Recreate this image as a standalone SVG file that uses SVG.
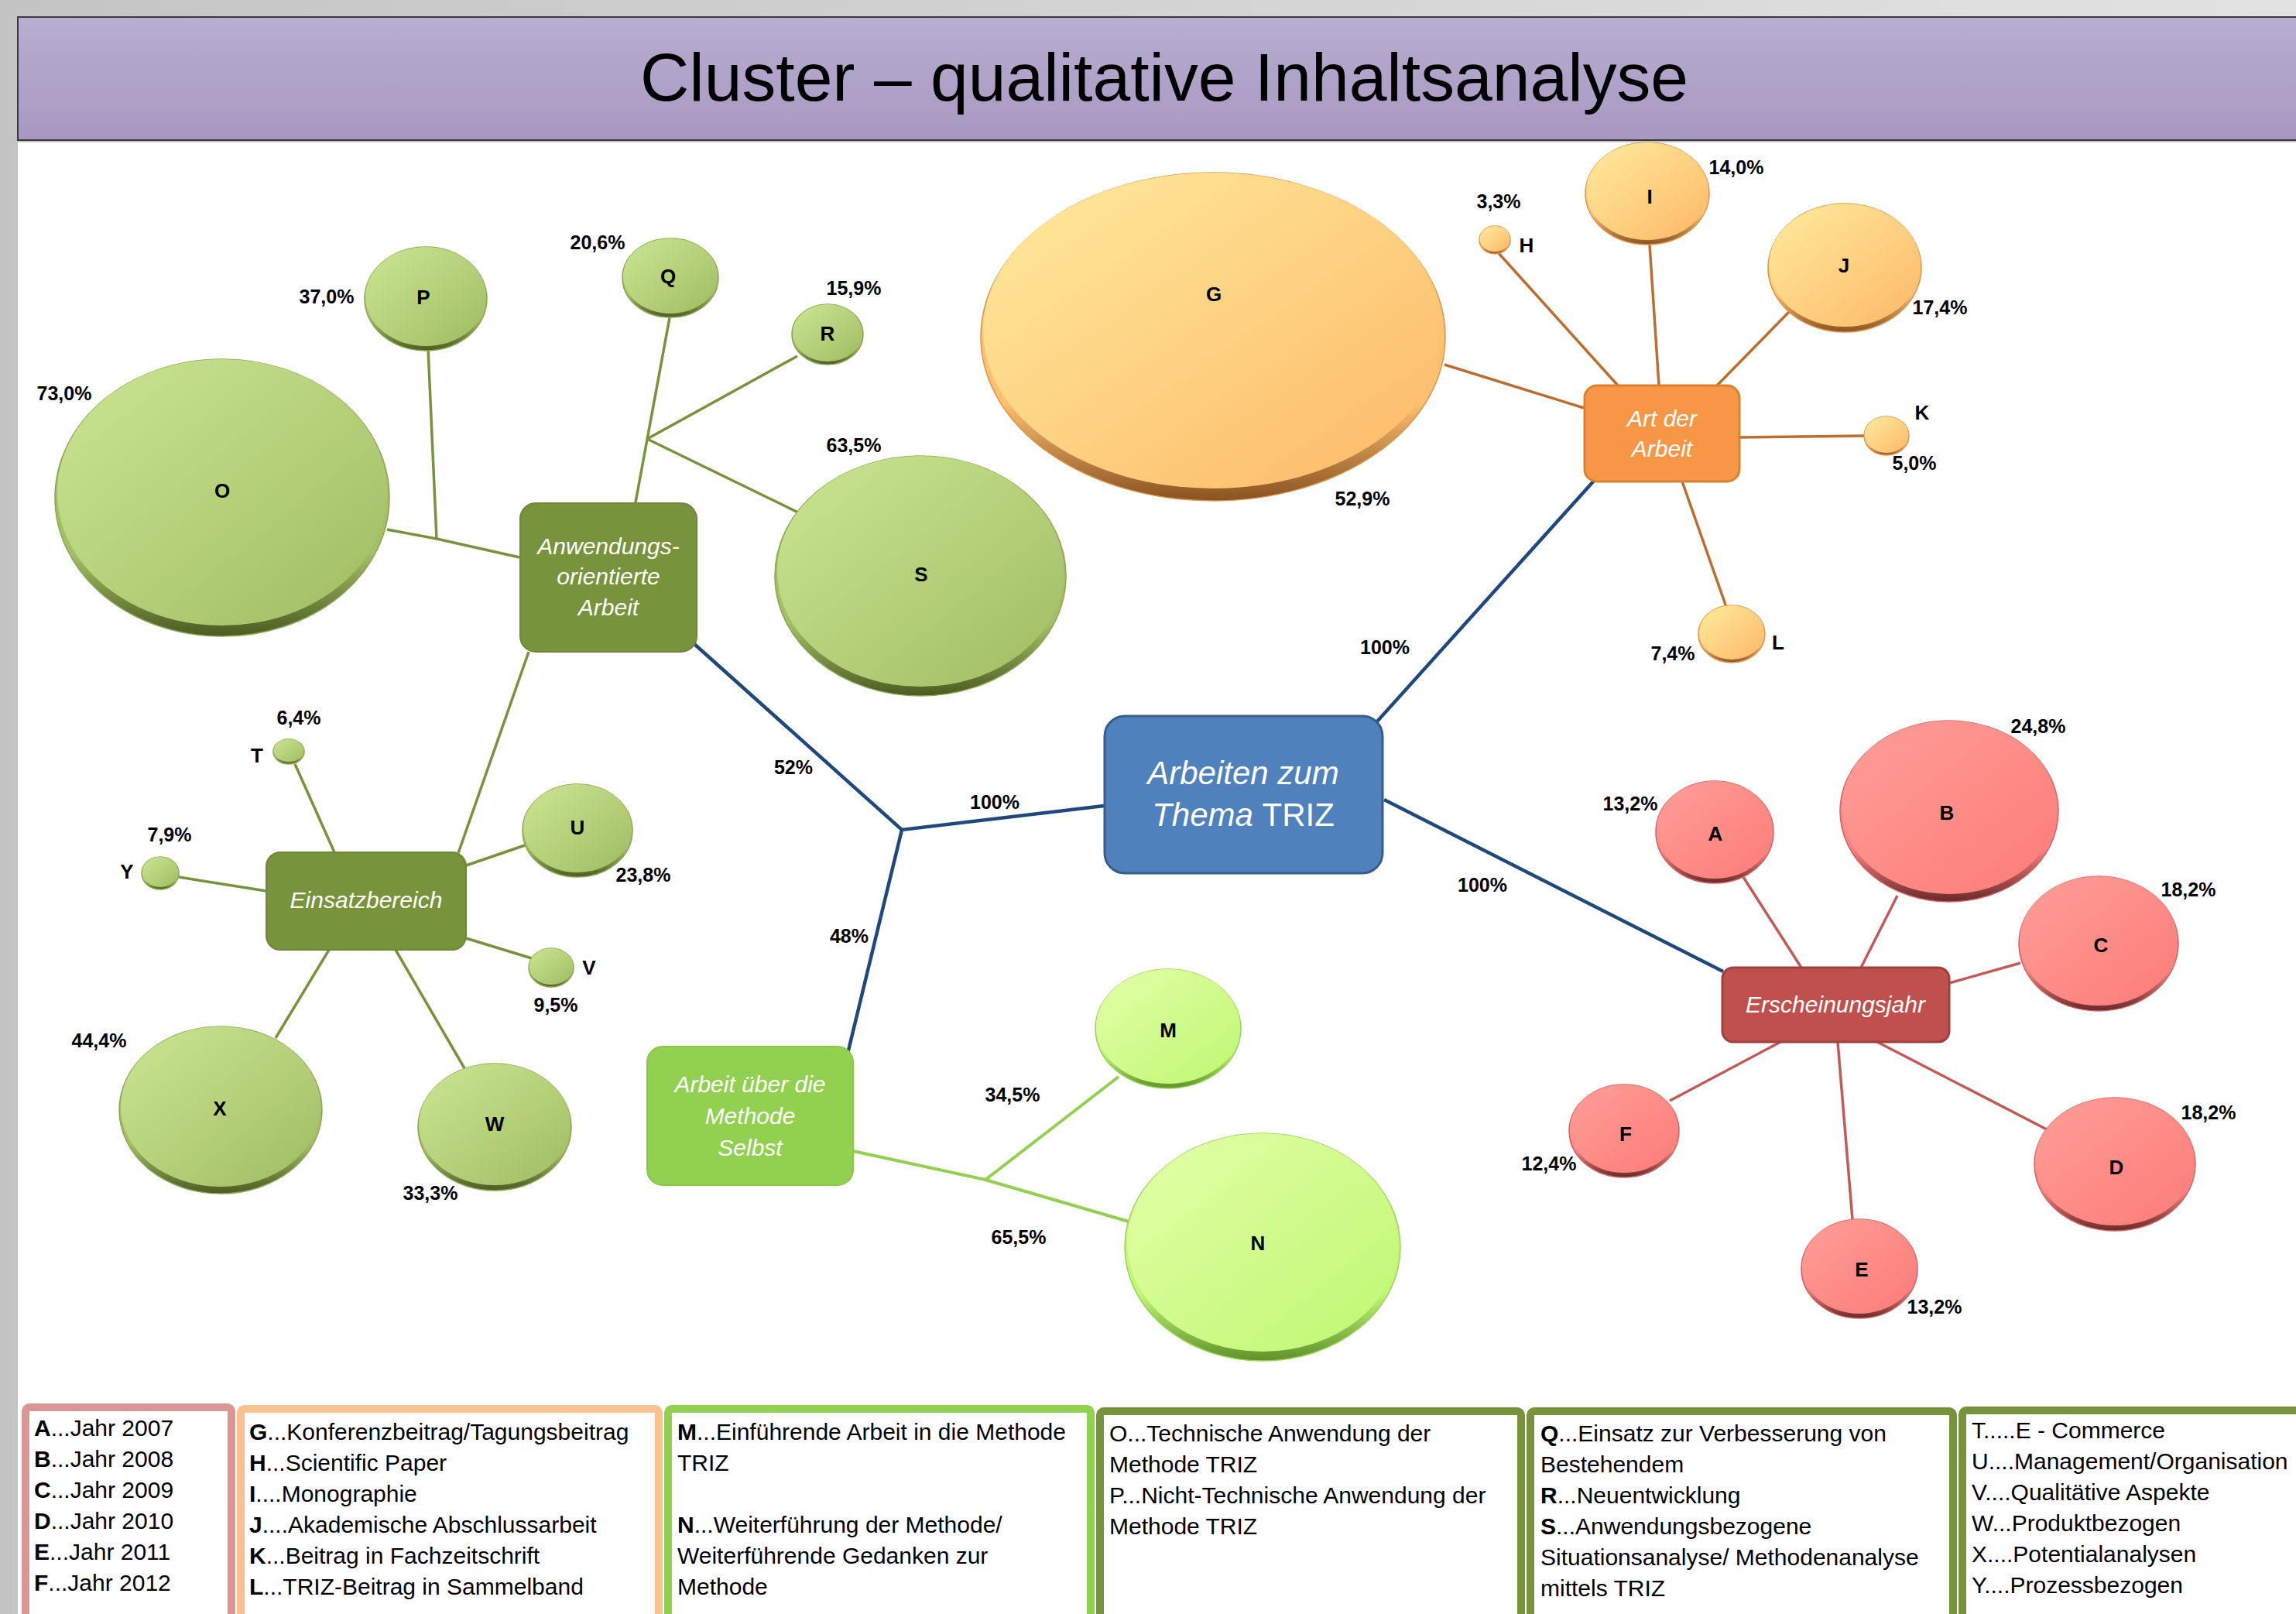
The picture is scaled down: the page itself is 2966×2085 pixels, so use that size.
<svg xmlns="http://www.w3.org/2000/svg" width="2966" height="2085" viewBox="0 0 2966 2085">
<style>
text{font-family:"Liberation Sans",Arial,sans-serif;}
.title{font-size:88px;fill:#000;text-anchor:middle;}
.lt{font-size:26px;font-weight:bold;fill:#000;text-anchor:middle;}
.pc{font-size:25px;font-weight:bold;fill:#000;text-anchor:middle;}
.bx{font-size:30px;font-style:italic;fill:#fff;text-anchor:middle;}
.bxc{font-size:42px;font-style:italic;fill:#fff;text-anchor:middle;}
.lg{font-size:30px;fill:#000;}
.lg tspan.b{font-weight:bold;}
.cb{stroke:#1f497d;stroke-width:4.5;fill:none;}
.co{stroke:#77933c;stroke-width:3.5;fill:none;}
.cl{stroke:#92d050;stroke-width:4;fill:none;}
.cor{stroke:#bb6e30;stroke-width:3.5;fill:none;}
.cr{stroke:#c45a58;stroke-width:3.5;fill:none;}
.rimOl{fill:url(#rOl);stroke:#8aa652;stroke-width:1.5;}
.topOl{fill:url(#gOl);}
.rimLg{fill:url(#rLg);stroke:#9bd35a;stroke-width:1.5;}
.topLg{fill:url(#gLg);}
.rimOr{fill:url(#rOr);stroke:#e0944a;stroke-width:1.5;}
.topOr{fill:url(#gOr);}
.rimRd{fill:url(#rRd);stroke:#d06462;stroke-width:1.5;}
.topRd{fill:url(#gRd);}
.legbox{fill:#fff;stroke-width:10;}
</style>
<defs>
<linearGradient id="bgTop" x1="0" y1="0" x2="1" y2="0"><stop offset="0" stop-color="#c4c4c4"/><stop offset="1" stop-color="#e2e2e2"/></linearGradient>
<linearGradient id="hdr" x1="0" y1="0" x2="0" y2="1"><stop offset="0" stop-color="#b7aed0"/><stop offset="1" stop-color="#a898c1"/></linearGradient>
<linearGradient id="gOl" x1="0" y1="0" x2="1" y2="1"><stop offset="0" stop-color="#cbe692"/><stop offset="1" stop-color="#a0bc62"/></linearGradient>
<linearGradient id="rOl" x1="0" y1="0" x2="0" y2="1"><stop offset="0.7" stop-color="#a4c066"/><stop offset="1" stop-color="#4a5c20"/></linearGradient>
<linearGradient id="gLg" x1="0" y1="0" x2="1" y2="1"><stop offset="0" stop-color="#e4ffa8"/><stop offset="1" stop-color="#bdf770"/></linearGradient>
<linearGradient id="rLg" x1="0" y1="0" x2="0" y2="1"><stop offset="0.7" stop-color="#c2f878"/><stop offset="1" stop-color="#5f9228"/></linearGradient>
<linearGradient id="gOr" x1="0" y1="0" x2="1" y2="1"><stop offset="0" stop-color="#ffeb9e"/><stop offset="1" stop-color="#fcb866"/></linearGradient>
<linearGradient id="rOr" x1="0" y1="0" x2="0" y2="1"><stop offset="0.7" stop-color="#fdc070"/><stop offset="1" stop-color="#8a5220"/></linearGradient>
<linearGradient id="gRd" x1="0" y1="0" x2="1" y2="1"><stop offset="0" stop-color="#ff9e98"/><stop offset="1" stop-color="#fc7b77"/></linearGradient>
<linearGradient id="rRd" x1="0" y1="0" x2="0" y2="1"><stop offset="0.7" stop-color="#fc8480"/><stop offset="1" stop-color="#6a2828"/></linearGradient>
</defs>

<rect x="0" y="0" width="2966" height="2085" fill="#fff"/>
<rect x="0" y="0" width="2966" height="22" fill="url(#bgTop)"/>
<rect x="0" y="0" width="23" height="2085" fill="#c4c4c4"/>
<g id="header">
<rect x="23" y="22" width="2950" height="159" fill="url(#hdr)" stroke="#3a3a3a" stroke-width="2"/>
<line x1="23" y1="183" x2="2966" y2="183" stroke="#c8c8c8" stroke-width="2"/>
<text class="title" x="1504" y="130" textLength="1354" lengthAdjust="spacingAndGlyphs">Cluster – qualitative Inhaltsanalyse</text>
</g>

<g id="connectors">
<line class="cb" x1="1778" y1="933" x2="2060" y2="620"/>
<line class="cb" x1="1788" y1="1033" x2="2226" y2="1255"/>
<polyline class="cb" points="1426,1041 1165,1072 897,832"/>
<line class="cb" x1="1165" y1="1072" x2="1095" y2="1361"/>

<polyline class="co" points="500,684 564,696 671,720"/>
<line class="co" x1="553" y1="450" x2="564" y2="696"/>
<line class="co" x1="866" y1="405" x2="821" y2="649"/>
<line class="co" x1="836" y1="567" x2="1030" y2="460"/>
<line class="co" x1="836" y1="567" x2="1031" y2="662"/>
<line class="co" x1="683" y1="842" x2="592" y2="1102"/>
<line class="co" x1="381" y1="987" x2="432" y2="1101"/>
<line class="co" x1="231" y1="1133" x2="344" y2="1151"/>
<line class="co" x1="602" y1="1118" x2="678" y2="1092"/>
<line class="co" x1="602" y1="1212" x2="687" y2="1238"/>
<line class="co" x1="425" y1="1227" x2="356" y2="1341"/>
<line class="co" x1="511" y1="1227" x2="600" y2="1380"/>

<polyline class="cl" points="1102,1487 1273,1524 1458,1578"/>
<line class="cl" x1="1273" y1="1524" x2="1445" y2="1391"/>

<line class="cor" x1="1866" y1="471" x2="2046" y2="527"/>
<line class="cor" x1="1935" y1="326" x2="2090" y2="498"/>
<line class="cor" x1="2131" y1="316" x2="2143" y2="498"/>
<line class="cor" x1="2311" y1="403" x2="2218" y2="498"/>
<line class="cor" x1="2247" y1="565" x2="2409" y2="563"/>
<line class="cor" x1="2173" y1="622" x2="2230" y2="784"/>

<line class="cr" x1="2252" y1="1133" x2="2327" y2="1250"/>
<line class="cr" x1="2451" y1="1157" x2="2404" y2="1250"/>
<line class="cr" x1="2610" y1="1244" x2="2518" y2="1270"/>
<line class="cr" x1="2425" y1="1346" x2="2644" y2="1459"/>
<line class="cr" x1="2374" y1="1346" x2="2393" y2="1575"/>
<line class="cr" x1="2300" y1="1346" x2="2157" y2="1422"/>
</g>

<g id="connector-labels">
<text class="pc" x="1789" y="845">100%</text>
<text class="pc" x="1285" y="1045">100%</text>
<text class="pc" x="1915" y="1152">100%</text>
<text class="pc" x="1025" y="1000">52%</text>
<text class="pc" x="1097" y="1218">48%</text>
</g>

<g id="node-central">
<rect x="1427" y="925" width="359" height="203" rx="26" fill="#4f81bd" stroke="#385d8a" stroke-width="3"/>
<text class="bxc" x="1606" y="1013">Arbeiten zum</text>
<text class="bxc" x="1606" y="1067">Thema <tspan font-style="normal">TRIZ</tspan></text>
</g>

<g id="node-art">
<rect x="2047" y="498" width="200" height="124" rx="16" fill="#f79646" stroke="#d9822e" stroke-width="3"/>
<text class="bx" x="2147" y="551">Art der</text>
<text class="bx" x="2147" y="590">Arbeit</text>
</g>

<g id="node-ersch">
<rect x="2225" y="1250" width="293" height="96" rx="14" fill="#c0504d" stroke="#a0403d" stroke-width="3"/>
<text class="bx" x="2371" y="1308">Erscheinungsjahr</text>
</g>

<g id="node-anw">
<rect x="672" y="650" width="228" height="192" rx="20" fill="#77933c" stroke="#6d8837" stroke-width="2"/>
<text class="bx" x="786" y="716">Anwendungs-</text>
<text class="bx" x="786" y="755">orientierte</text>
<text class="bx" x="786" y="795">Arbeit</text>
</g>

<g id="node-einsatz">
<rect x="344" y="1101" width="258" height="126" rx="18" fill="#77933c" stroke="#6d8837" stroke-width="2"/>
<text class="bx" x="473" y="1173">Einsatzbereich</text>
</g>

<g id="node-methode">
<rect x="836" y="1352" width="266" height="179" rx="20" fill="#92d050" stroke="#8ac84a" stroke-width="2"/>
<text class="bx" x="969" y="1411">Arbeit über die</text>
<text class="bx" x="969" y="1452">Methode</text>
<text class="bx" x="969" y="1493">Selbst</text>
</g>

<g id="node-O"><ellipse class="rimOl" cx="287" cy="643" rx="216" ry="179"/><ellipse class="topOl" cx="287" cy="636" rx="213" ry="172"/><text class="lt" x="287" y="643">O</text><text class="pc" x="83" y="517">73,0%</text></g>
<g id="node-P"><ellipse class="rimOl" cx="550" cy="386" rx="79" ry="67"/><ellipse class="topOl" cx="550" cy="383" rx="78" ry="64"/><text class="lt" x="547" y="393">P</text><text class="pc" x="422" y="392">37,0%</text></g>
<g id="node-Q"><ellipse class="rimOl" cx="866" cy="359" rx="62" ry="51"/><ellipse class="topOl" cx="866" cy="356.5" rx="61" ry="48.5"/><text class="lt" x="863" y="366">Q</text><text class="pc" x="772" y="322">20,6%</text></g>
<g id="node-R"><ellipse class="rimOl" cx="1069" cy="432" rx="46" ry="39"/><ellipse class="topOl" cx="1069" cy="430" rx="45" ry="37"/><text class="lt" x="1069" y="440">R</text><text class="pc" x="1103" y="381">15,9%</text></g>
<g id="node-S"><ellipse class="rimOl" cx="1189" cy="744" rx="188" ry="155"/><ellipse class="topOl" cx="1189" cy="738" rx="185" ry="149"/><text class="lt" x="1190" y="751">S</text><text class="pc" x="1103" y="584">63,5%</text></g>
<g id="node-T"><ellipse class="rimOl" cx="373" cy="971" rx="20" ry="16"/><ellipse class="topOl" cx="373" cy="969.5" rx="19.5" ry="14.5"/><text class="lt" x="332" y="985">T</text><text class="pc" x="386" y="936">6,4%</text></g>
<g id="node-Y"><ellipse class="rimOl" cx="207" cy="1128" rx="24" ry="21"/><ellipse class="topOl" cx="207" cy="1126.5" rx="23.5" ry="19.5"/><text class="lt" x="164" y="1135">Y</text><text class="pc" x="219" y="1087">7,9%</text></g>
<g id="node-U"><ellipse class="rimOl" cx="746" cy="1073" rx="71" ry="60"/><ellipse class="topOl" cx="746" cy="1070" rx="70" ry="57"/><text class="lt" x="746" y="1078">U</text><text class="pc" x="831" y="1139">23,8%</text></g>
<g id="node-V"><ellipse class="rimOl" cx="712" cy="1250" rx="29" ry="25"/><ellipse class="topOl" cx="712" cy="1248.5" rx="28.5" ry="23.5"/><text class="lt" x="761" y="1259">V</text><text class="pc" x="718" y="1307">9,5%</text></g>
<g id="node-X"><ellipse class="rimOl" cx="285" cy="1434" rx="131" ry="108"/><ellipse class="topOl" cx="285" cy="1429.5" rx="129" ry="103.5"/><text class="lt" x="284" y="1441">X</text><text class="pc" x="128" y="1353">44,4%</text></g>
<g id="node-W"><ellipse class="rimOl" cx="639" cy="1456" rx="99" ry="82"/><ellipse class="topOl" cx="639" cy="1452.5" rx="98" ry="78.5"/><text class="lt" x="639" y="1461">W</text><text class="pc" x="556" y="1550">33,3%</text></g>

<g id="node-M"><ellipse class="rimLg" cx="1509" cy="1329" rx="94" ry="77"/><ellipse class="topLg" cx="1509" cy="1326" rx="93" ry="74"/><text class="lt" x="1509" y="1340">M</text><text class="pc" x="1308" y="1423">34,5%</text></g>
<g id="node-N"><ellipse class="rimLg" cx="1631" cy="1611" rx="178" ry="147"/><ellipse class="topLg" cx="1631" cy="1605" rx="175" ry="141"/><text class="lt" x="1625" y="1615">N</text><text class="pc" x="1316" y="1607">65,5%</text></g>

<g id="node-G"><ellipse class="rimOr" cx="1567" cy="435" rx="300" ry="212"/><ellipse class="topOr" cx="1567" cy="427" rx="297" ry="204"/><text class="lt" x="1568" y="389">G</text><text class="pc" x="1760" y="653">52,9%</text></g>
<g id="node-H"><ellipse class="rimOr" cx="1931" cy="310" rx="20" ry="18"/><ellipse class="topOr" cx="1931" cy="308.5" rx="19.5" ry="16.5"/><text class="lt" x="1972" y="326">H</text><text class="pc" x="1936" y="269">3,3%</text></g>
<g id="node-I"><ellipse class="rimOr" cx="2128" cy="250" rx="80" ry="66"/><ellipse class="topOr" cx="2128" cy="247" rx="79" ry="63"/><text class="lt" x="2131" y="263">I</text><text class="pc" x="2243" y="225">14,0%</text></g>
<g id="node-J"><ellipse class="rimOr" cx="2383" cy="346" rx="99" ry="83"/><ellipse class="topOr" cx="2383" cy="342.5" rx="98" ry="79.5"/><text class="lt" x="2382" y="352">J</text><text class="pc" x="2506" y="406">17,4%</text></g>
<g id="node-K"><ellipse class="rimOr" cx="2437" cy="563" rx="29" ry="25"/><ellipse class="topOr" cx="2437" cy="561.5" rx="28.5" ry="23.5"/><text class="lt" x="2483" y="542">K</text><text class="pc" x="2473" y="607">5,0%</text></g>
<g id="node-L"><ellipse class="rimOr" cx="2237" cy="819" rx="43" ry="37"/><ellipse class="topOr" cx="2237" cy="817" rx="42" ry="35"/><text class="lt" x="2297" y="839">L</text><text class="pc" x="2161" y="853">7,4%</text></g>

<g id="node-A"><ellipse class="rimRd" cx="2215" cy="1075" rx="76" ry="66"/><ellipse class="topRd" cx="2215" cy="1072" rx="75" ry="63"/><text class="lt" x="2216" y="1086">A</text><text class="pc" x="2106" y="1047">13,2%</text></g>
<g id="node-B"><ellipse class="rimRd" cx="2518" cy="1048" rx="141" ry="117"/><ellipse class="topRd" cx="2518" cy="1043" rx="139" ry="112"/><text class="lt" x="2515" y="1059">B</text><text class="pc" x="2633" y="947">24,8%</text></g>
<g id="node-C"><ellipse class="rimRd" cx="2711" cy="1219" rx="103" ry="87"/><ellipse class="topRd" cx="2711" cy="1215.5" rx="102" ry="83.5"/><text class="lt" x="2714" y="1230">C</text><text class="pc" x="2827" y="1158">18,2%</text></g>
<g id="node-D"><ellipse class="rimRd" cx="2732" cy="1504" rx="104" ry="86"/><ellipse class="topRd" cx="2732" cy="1500.5" rx="103" ry="82.5"/><text class="lt" x="2734" y="1517">D</text><text class="pc" x="2853" y="1446">18,2%</text></g>
<g id="node-E"><ellipse class="rimRd" cx="2402" cy="1639" rx="75" ry="64"/><ellipse class="topRd" cx="2402" cy="1636" rx="74" ry="61"/><text class="lt" x="2405" y="1649">E</text><text class="pc" x="2499" y="1697">13,2%</text></g>
<g id="node-F"><ellipse class="rimRd" cx="2098" cy="1461" rx="71" ry="60"/><ellipse class="topRd" cx="2098" cy="1458" rx="70" ry="57"/><text class="lt" x="2100" y="1474">F</text><text class="pc" x="2001" y="1512">12,4%</text></g>

<g id="legend-years">
<rect class="legbox" x="33" y="1818" width="266" height="320" rx="5" stroke="#d99694"/>
<text class="lg" x="44" y="1855"><tspan class="b">A</tspan>...Jahr 2007</text>
<text class="lg" x="44" y="1895"><tspan class="b">B</tspan>...Jahr 2008</text>
<text class="lg" x="44" y="1935"><tspan class="b">C</tspan>...Jahr 2009</text>
<text class="lg" x="44" y="1975"><tspan class="b">D</tspan>...Jahr 2010</text>
<text class="lg" x="44" y="2015"><tspan class="b">E</tspan>...Jahr 2011</text>
<text class="lg" x="44" y="2055"><tspan class="b">F</tspan>...Jahr 2012</text>
</g>
<g id="legend-art">
<rect class="legbox" x="311" y="1820" width="540" height="320" rx="5" stroke="#fac090"/>
<text class="lg" x="322" y="1860"><tspan class="b">G</tspan>...Konferenzbeitrag/Tagungsbeitrag</text>
<text class="lg" x="322" y="1900"><tspan class="b">H</tspan>...Scientific Paper</text>
<text class="lg" x="322" y="1940"><tspan class="b">I</tspan>....Monographie</text>
<text class="lg" x="322" y="1980"><tspan class="b">J</tspan>....Akademische Abschlussarbeit</text>
<text class="lg" x="322" y="2020"><tspan class="b">K</tspan>...Beitrag in Fachzeitschrift</text>
<text class="lg" x="322" y="2060"><tspan class="b">L</tspan>...TRIZ-Beitrag in Sammelband</text>
</g>
<g id="legend-methode">
<rect class="legbox" x="863" y="1820" width="546" height="320" rx="5" stroke="#92d050"/>
<text class="lg" x="875" y="1860"><tspan class="b">M</tspan>...Einführende Arbeit in die Methode</text>
<text class="lg" x="875" y="1900">TRIZ</text>
<text class="lg" x="875" y="1980"><tspan class="b">N</tspan>...Weiterführung der Methode/</text>
<text class="lg" x="875" y="2020">Weiterführende Gedanken zur</text>
<text class="lg" x="875" y="2060">Methode</text>
</g>
<g id="legend-anwendung">
<rect class="legbox" x="1421" y="1823" width="544" height="320" rx="5" stroke="#77933c"/>
<text class="lg" x="1433" y="1862">O...Technische Anwendung der</text>
<text class="lg" x="1433" y="1902">Methode TRIZ</text>
<text class="lg" x="1433" y="1942">P...Nicht-Technische Anwendung der</text>
<text class="lg" x="1433" y="1982">Methode TRIZ</text>
</g>
<g id="legend-zweck">
<rect class="legbox" x="1977" y="1823" width="546" height="320" rx="5" stroke="#77933c"/>
<text class="lg" x="1990" y="1862"><tspan class="b">Q</tspan>...Einsatz zur Verbesserung von</text>
<text class="lg" x="1990" y="1902">Bestehendem</text>
<text class="lg" x="1990" y="1942"><tspan class="b">R</tspan>...Neuentwicklung</text>
<text class="lg" x="1990" y="1982"><tspan class="b">S</tspan>...Anwendungsbezogene</text>
<text class="lg" x="1990" y="2022">Situationsanalyse/ Methodenanalyse</text>
<text class="lg" x="1990" y="2062">mittels TRIZ</text>
</g>
<g id="legend-einsatz">
<rect class="legbox" x="2535" y="1822" width="460" height="320" rx="5" stroke="#77933c"/>
<text class="lg" x="2547" y="1858">T.....E - Commerce</text>
<text class="lg" x="2547" y="1898">U....Management/Organisation</text>
<text class="lg" x="2547" y="1938">V....Qualitätive Aspekte</text>
<text class="lg" x="2547" y="1978">W...Produktbezogen</text>
<text class="lg" x="2547" y="2018">X....Potentialanalysen</text>
<text class="lg" x="2547" y="2058">Y....Prozessbezogen</text>
</g>
</svg>
